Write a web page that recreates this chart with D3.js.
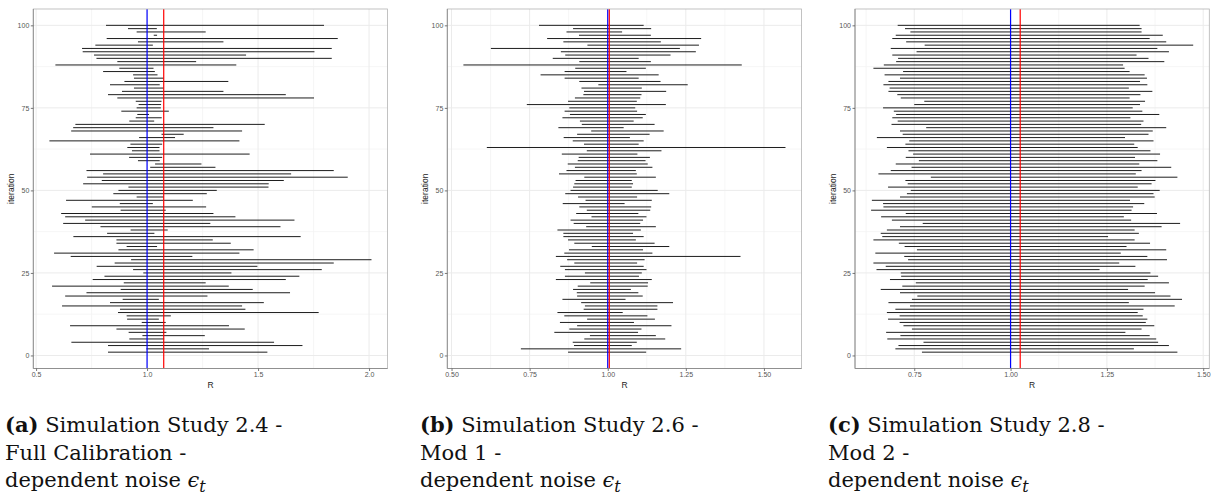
<!DOCTYPE html>
<html><head><meta charset="utf-8">
<script src="https://cdn.jsdelivr.net/npm/d3@7"></script>
<style>body{margin:0;background:#fff}</style>
</head><body>
<svg id="c" width="1212" height="502"></svg>
<script>
// ---------- DATA (iterations 1..100) ----------
const iterations = d3.range(1, 101);
const lowA = [0.824,0.997,0.824,0.659,0.920,0.979,0.917,0.862,0.653,0.976,0.910,0.908,0.869,0.878,0.617,0.833,0.890,0.631,0.727,0.881,0.572,0.895,0.755,0.808,0.983,0.937,0.773,0.854,0.928,0.656,0.581,0.871,0.908,0.862,0.862,0.668,0.820,0.926,0.790,0.622,0.721,0.631,0.613,0.881,0.751,0.877,0.635,0.953,0.848,0.871,0.916,0.712,0.796,0.730,0.802,0.727,1.014,1.036,0.959,0.919,0.743,0.932,0.911,0.925,0.560,0.964,1.065,0.658,0.667,0.677,0.920,0.949,0.956,0.884,0.953,0.962,0.949,0.866,0.824,0.887,0.941,0.833,0.898,0.941,0.937,0.802,0.875,0.587,0.866,0.772,0.761,0.710,0.707,0.767,0.959,0.818,1.030,0.953,0.914,0.815];
const highA = [1.542,1.279,1.700,1.572,1.077,1.260,1.087,1.440,1.369,1.084,1.053,1.107,1.773,1.443,1.428,1.526,1.053,1.272,1.644,1.476,1.368,1.264,1.625,1.686,1.380,1.787,1.497,1.841,2.011,1.204,1.416,1.480,1.045,1.377,1.296,1.692,1.033,1.093,1.601,1.285,1.664,1.398,1.299,1.084,1.266,1.026,1.206,1.075,1.269,1.314,1.547,1.548,1.616,1.904,1.649,1.841,1.308,1.245,1.057,1.068,1.462,1.056,1.056,1.068,1.416,1.126,1.165,1.428,1.299,1.530,1.032,1.066,1.009,1.098,1.062,1.063,1.065,1.752,1.625,1.344,1.075,1.057,1.366,1.075,1.047,1.035,1.029,1.402,1.221,1.832,1.446,1.754,1.832,1.026,1.344,1.859,1.045,1.264,1.044,1.797];
const lowB = [0.873,0.722,0.892,0.888,0.925,0.943,0.829,0.877,0.902,0.847,0.934,0.861,0.839,0.923,0.927,0.915,0.855,0.902,0.901,0.889,0.904,0.944,0.834,0.863,0.927,0.863,0.848,0.893,0.870,0.834,0.861,0.876,0.949,0.893,0.873,0.858,0.858,0.839,0.931,0.891,0.881,0.948,0.899,0.933,0.909,0.856,0.929,0.905,0.864,0.881,0.889,0.893,0.897,0.925,0.844,0.868,0.895,0.872,0.904,0.907,0.853,0.933,0.613,0.924,0.888,0.859,0.902,0.947,0.842,0.917,0.911,0.855,0.879,0.862,0.877,0.741,0.873,0.895,0.922,0.924,0.916,0.970,0.909,0.862,0.785,0.862,0.896,0.538,0.909,0.824,0.864,0.850,0.626,0.935,0.858,0.806,0.908,0.868,0.889,0.780];
const highB = [1.123,1.235,1.077,1.093,1.184,1.154,1.097,1.108,1.204,1.084,1.151,1.127,1.048,1.159,1.159,1.209,1.057,1.112,1.098,1.074,1.128,1.129,1.141,1.100,1.109,1.124,1.115,1.094,1.118,1.425,1.143,1.113,1.197,1.150,1.090,1.115,1.081,1.106,1.154,1.104,1.113,1.124,1.098,1.136,1.139,1.054,1.141,1.094,1.197,1.160,1.077,1.081,1.077,1.154,1.093,1.090,1.143,1.128,1.121,1.135,1.095,1.172,1.569,1.099,1.115,1.071,1.134,1.179,1.051,1.150,1.083,1.112,1.122,1.094,1.088,1.186,1.093,1.104,1.108,1.187,1.109,1.256,1.169,1.099,1.163,1.060,1.122,1.429,1.138,1.099,1.201,1.282,1.231,1.292,1.170,1.299,1.138,1.046,1.139,1.115];
const lowC = [0.770,0.701,0.709,0.774,0.680,0.714,0.677,0.744,0.722,0.712,0.682,0.712,0.679,0.701,0.739,0.683,0.744,0.758,0.713,0.663,0.719,0.754,0.687,0.716,0.715,0.652,0.676,0.644,0.734,0.724,0.649,0.757,0.725,0.710,0.644,0.667,0.663,0.679,0.713,0.772,0.692,0.664,0.728,0.638,0.670,0.669,0.640,0.713,0.731,0.741,0.682,0.733,0.727,0.793,0.657,0.689,0.743,0.702,0.762,0.728,0.747,0.735,0.679,0.727,0.737,0.653,0.720,0.713,0.781,0.691,0.707,0.693,0.703,0.697,0.669,0.750,0.776,0.715,0.706,0.683,0.686,0.670,0.683,0.713,0.673,0.721,0.644,0.671,0.703,0.708,0.693,0.756,0.689,0.777,0.729,0.693,0.702,0.740,0.726,0.707];
const highC = [1.433,1.320,1.411,1.383,1.378,1.361,1.298,1.340,1.373,1.351,1.355,1.343,1.330,1.345,1.426,1.307,1.445,1.415,1.375,1.305,1.348,1.411,1.356,1.383,1.363,1.231,1.324,1.282,1.406,1.355,1.286,1.404,1.301,1.362,1.322,1.253,1.333,1.322,1.392,1.440,1.313,1.294,1.380,1.314,1.318,1.347,1.310,1.374,1.371,1.387,1.330,1.366,1.376,1.433,1.325,1.340,1.417,1.334,1.381,1.323,1.388,1.363,1.330,1.321,1.371,1.297,1.358,1.369,1.404,1.339,1.345,1.311,1.386,1.342,1.317,1.336,1.349,1.309,1.337,1.368,1.307,1.355,1.336,1.354,1.348,1.309,1.296,1.292,1.399,1.358,1.327,1.411,1.381,1.474,1.404,1.361,1.395,1.340,1.340,1.335];
const blueRef = [1.0, 1.0, 1.0];
const redRef = [1.075, 1.005, 1.025];
const xTicksA = [0.5, 1.0, 1.5, 2.0];
const xTicksB = [0.50, 0.75, 1.00, 1.25, 1.50];
const xTicksC = [0.75, 1.00, 1.25, 1.50];
const xTickLabelsA = ["0.5", "1.0", "1.5", "2.0"];
const xTickLabelsB = ["0.50", "0.75", "1.00", "1.25", "1.50"];
const xTickLabelsC = ["0.75", "1.00", "1.25", "1.50"];
const yTicks = [0, 25, 50, 75, 100];
const captionTags = ["(a)", "(b)", "(c)"];
const captionLine1 = [" Simulation Study 2.4 -", " Simulation Study 2.6 -", " Simulation Study 2.8 -"];
const captionLine2 = ["Full Calibration -", "Mod 1 -", "Mod 2 -"];
const captionLine3 = "dependent noise ";

// ---------- LAYOUT ----------
const svg = d3.select("#c");
const panelLeft = [33.3, 447.3, 855];
const panelW = 354.3, panelTop = 9, panelBottom = 368.5;
const captionX = [5, 420, 828];

const panels = [
  {low: lowA, high: highA, ticks: xTicksA, labels: xTickLabelsA},
  {low: lowB, high: highB, ticks: xTicksB, labels: xTickLabelsB},
  {low: lowC, high: highC, ticks: xTicksC, labels: xTickLabelsC}
];

function expand(lo, hi, m) { const d = (hi - lo) * m; return [lo - d, hi + d]; }

panels.forEach((p, i) => {
  const L = panelLeft[i], R = L + panelW;
  const xmin = d3.min(p.low), xmax = d3.max(p.high);
  const x = d3.scaleLinear().domain(expand(xmin, xmax, 0.05)).range([L, R]);
  const y = d3.scaleLinear().domain(expand(1, 100, 0.05)).range([panelBottom, panelTop]);
  const g = svg.append("g");

  // minor grid
  const step = p.ticks[1] - p.ticks[0];
  const xMinor = d3.range(p.ticks[0] - step / 2, p.ticks[p.ticks.length - 1] + step, step)
    .filter(v => v > x.domain()[0] && v < x.domain()[1]);
  const yMinor = [12.5, 37.5, 62.5, 87.5];
  g.selectAll(".xmin").data(xMinor).join("line")
    .attr("x1", d => x(d)).attr("x2", d => x(d)).attr("y1", panelTop).attr("y2", panelBottom)
    .attr("stroke", "#f4f4f4").attr("stroke-width", 0.8);
  g.selectAll(".ymin").data(yMinor).join("line")
    .attr("y1", d => y(d)).attr("y2", d => y(d)).attr("x1", L).attr("x2", R)
    .attr("stroke", "#f4f4f4").attr("stroke-width", 0.8);
  // major grid
  g.append("g").selectAll("line").data(p.ticks).join("line")
    .attr("x1", d => x(d)).attr("x2", d => x(d)).attr("y1", panelTop).attr("y2", panelBottom)
    .attr("stroke", "#ebebeb").attr("stroke-width", 1);
  g.append("g").selectAll("line").data(yTicks).join("line")
    .attr("y1", d => y(d)).attr("y2", d => y(d)).attr("x1", L).attr("x2", R)
    .attr("stroke", "#ebebeb").attr("stroke-width", 1);

  // segments
  g.append("g").selectAll("line").data(iterations).join("line")
    .attr("x1", (d, j) => x(p.low[j])).attr("x2", (d, j) => x(p.high[j]))
    .attr("y1", d => y(d)).attr("y2", d => y(d))
    .attr("stroke", "#111").attr("stroke-width", 0.95);

  // reference lines
  g.append("line").attr("x1", x(blueRef[i])).attr("x2", x(blueRef[i]))
    .attr("y1", panelTop).attr("y2", panelBottom).attr("stroke", "#0000ff").attr("stroke-width", 1.2);
  g.append("line").attr("x1", x(redRef[i])).attr("x2", x(redRef[i]))
    .attr("y1", panelTop).attr("y2", panelBottom).attr("stroke", "#ff0000").attr("stroke-width", 1.2);

  // border
  g.append("rect").attr("x", L).attr("y", panelTop).attr("width", panelW).attr("height", panelBottom - panelTop)
    .attr("fill", "none").attr("stroke", "#b3b3b3").attr("stroke-width", 0.8);
  g.append("line").attr("x1", L).attr("x2", L).attr("y1", panelTop).attr("y2", panelBottom)
    .attr("stroke", "#8a8a8a").attr("stroke-width", 0.9);
  g.append("line").attr("x1", L).attr("x2", R).attr("y1", panelBottom).attr("y2", panelBottom)
    .attr("stroke", "#8a8a8a").attr("stroke-width", 0.9);

  // axes
  const xAxis = d3.axisBottom(x).tickValues(p.ticks).tickFormat((d, k) => p.labels[k]).tickSize(2.5).tickPadding(1.5);
  const gx = g.append("g").attr("transform", `translate(0,${panelBottom})`).call(xAxis);
  const yAxis = d3.axisLeft(y).tickValues(yTicks).tickSize(2.5).tickPadding(1.5);
  const gy = g.append("g").attr("transform", `translate(${L},0)`).call(yAxis);
  [gx, gy].forEach(a => {
    a.select(".domain").remove();
    a.selectAll(".tick line").attr("stroke", "#555").attr("stroke-width", 0.8);
    a.selectAll(".tick text").attr("fill", "#555").style("font-family", "Liberation Sans, Arial, sans-serif").style("font-size", "7px");
  });

  // axis titles
  g.append("text").attr("x", (L + R) / 2).attr("y", 388).attr("text-anchor", "middle")
    .style("font-family", "Liberation Sans, Arial, sans-serif").style("font-size", "8.5px").attr("fill", "#222").text("R");
  g.append("text").attr("transform", `translate(${L - 19},${(panelTop + panelBottom) / 2}) rotate(-90)`)
    .attr("text-anchor", "middle")
    .style("font-family", "Liberation Sans, Arial, sans-serif").style("font-size", "8.5px").attr("fill", "#222").text("iteration");

  // caption
  const cap = svg.append("g").style("font-family", "DejaVu Serif, serif").style("font-size", "21px").attr("fill", "#111");
  const t1 = cap.append("text").attr("x", captionX[i]).attr("y", 432);
  t1.append("tspan").style("font-weight", "bold").text(captionTags[i]);
  t1.append("tspan").text(captionLine1[i]);
  cap.append("text").attr("x", captionX[i]).attr("y", 459.5).text(captionLine2[i]);
  const t3 = cap.append("text").attr("x", captionX[i]).attr("y", 487);
  t3.append("tspan").text(captionLine3);
  t3.append("tspan").style("font-style", "italic").text("\u03F5");
  t3.append("tspan").style("font-style", "italic").style("font-size", "16px").attr("dy", 5).text("t");
});
</script>
</body></html>
